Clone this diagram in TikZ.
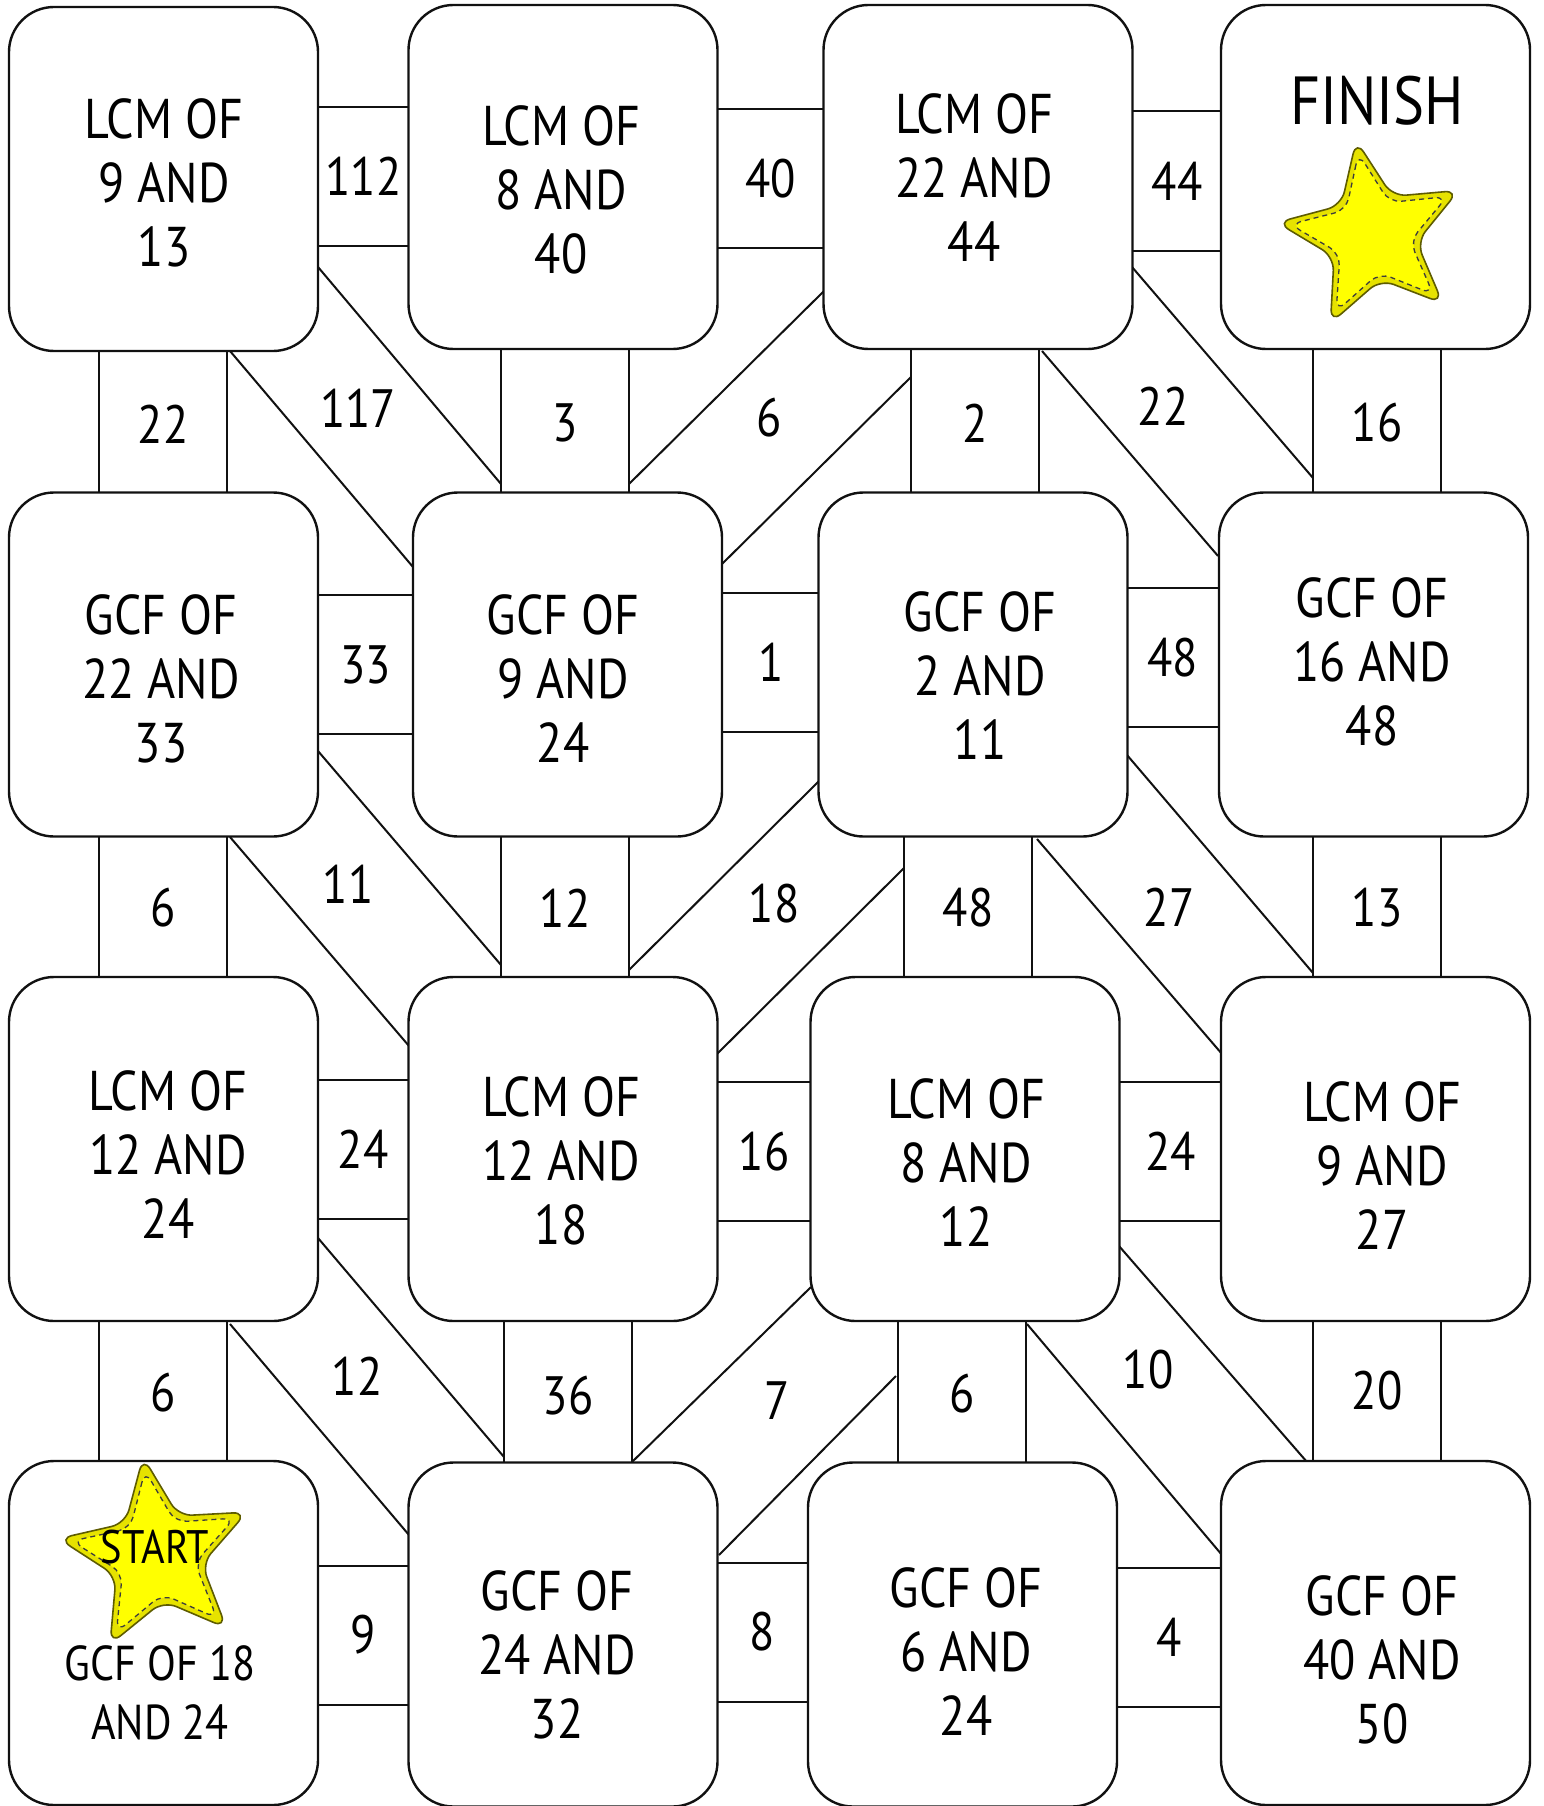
\documentclass[tikz,border=0pt]{standalone}
\usepackage{fontspec}
\setmainfont{PT Sans}[FakeStretch=0.86]
\usetikzlibrary{shapes.geometric}
\definecolor{ink}{HTML}{111111}
\definecolor{staryellow}{HTML}{FFFF00}
\definecolor{starband}{HTML}{E6E200}
\definecolor{starline}{HTML}{5E5C00}
\definecolor{stitch}{HTML}{3C3C3C}
\tikzset{
  tile/.style={draw=ink,fill=white,line width=2.4pt,rounded corners=45pt,
    minimum width=309pt,minimum height=344pt,inner sep=0pt},
  quiz/.style={align=center,font=\fontsize{56}{64}\selectfont,inner sep=0pt},
  gate/.style={draw=ink,fill=white,line width=2pt,inner sep=0pt,
    font=\fontsize{54}{60}\selectfont},
  lane/.style={draw=ink,line width=2pt},
  lanenum/.style={font=\fontsize{54}{60}\selectfont,inner sep=0pt},
  starout/.style={star,star points=5,star point ratio=2.2,minimum size=194pt,
    inner sep=0pt,rounded corners=14pt,fill=starband,draw=starline,line width=1.6pt},
  starin/.style={star,star points=5,star point ratio=2.25,minimum size=168pt,
    inner sep=0pt,rounded corners=12pt,fill=staryellow,draw=stitch,
    line width=1.3pt,dash pattern=on 5pt off 4pt}}
\begin{document}
\begin{tikzpicture}[x=1pt,y=-1pt]
\useasboundingbox (0,0) rectangle (1543,1806);
\fill[white] (0,0) rectangle (1543,1806);
% diagonal lanes
\foreach \ax/\ay/\bx/\by in {230/351/413/567, 318/267/501/484, 629/484/824/291,
  722/564/914/374, 1042/351/1218/556, 1132/267/1313/478, 230/837/409/1046,
  318/751/501/965, 629/970/819/781, 717/1054/906/866, 1037/839/1222/1054,
  1127/755/1313/973, 230/1324/409/1535, 318/1238/504/1457, 632/1462/811/1287,
  719/1555/896/1376, 1027/1324/1222/1555, 1119/1246/1307/1462}
  \draw[lane] (\ax,\ay) -- (\bx,\by);
\foreach \x/\y/\num in {358/408/117, 769/418/6, 1163/406/22, 348/884/11,
  774/904/18, 1169/907/27, 357/1376/12, 777/1401/7, 1148/1370/10}
  \node[lanenum] (lane-\num) at (\x,\y) {\num};
% gates between tiles
\foreach \n/\x/\y/\w/\h/\num in {g1a/363.5/176.5/99/139/112, g1b/770.5/178.5/115/139/40,
  g1c/1177/181/98/139/44, g2a/365.5/664.5/103/139/33, g2b/771/662/105/139/1,
  g2c/1172.5/657.5/99/139/48, g3a/363/1149/99/139/24, g3b/764/1151.5/102/139/16,
  g3c/1170.5/1151.5/111/139/24, g4a/363.5/1635/99/139/9, g4b/762.5/1632/99/139/8,
  g4c/1169.5/1637.5/113/139/4,
  v1a/163/424/128/149/22, v1b/565/423/128/151/3, v1c/975/423/128/151/2,
  v1d/1377/423/128/151/16, v2a/163/908/128/147/6, v2b/565/908/128/147/12,
  v2c/968/908/128/147/48, v2d/1377/908/128/147/13, v3a/163/1393/128/148/6,
  v3b/568/1396/128/151/36, v3c/962/1394/128/151/6, v3d/1377/1391/128/148/20}
  \node[gate,minimum width={\w pt},minimum height={\h pt}] (\n) at (\x,\y) {\num};
% question tiles
\foreach \n/\x/\y/\tx/\ty/\txt in {
  b11/163.5/179/164/183/{LCM OF\\9 AND\\13},
  b12/563/177/561/190/{LCM OF\\8 AND\\40},
  b13/978/177/974/178/{LCM OF\\22 AND\\44},
  b21/163.5/664.5/161/679/{GCF OF\\22 AND\\33},
  b22/567.5/664.5/563/679/{GCF OF\\9 AND\\24},
  b23/973/664.5/980/676/{GCF OF\\2 AND\\11},
  b24/1373.5/664.5/1372/662/{GCF OF\\16 AND\\48},
  b31/163.5/1149/168/1155/{LCM OF\\12 AND\\24},
  b32/563/1149/561/1161/{LCM OF\\12 AND\\18},
  b33/965/1149/966/1163/{LCM OF\\8 AND\\12},
  b34/1375.5/1149/1382/1166/{LCM OF\\9 AND\\27},
  b42/563/1634.5/557/1655/{GCF OF\\24 AND\\32},
  b43/962.5/1634.5/966/1652/{GCF OF\\6 AND\\24},
  b44/1375.5/1633/1382/1660/{GCF OF\\40 AND\\50}}{
  \node[tile] (\n) at (\x,\y) {};
  \node[quiz] (\n-q) at (\tx,\ty) {\txt};
}
% finish and start
\node[tile] (b14) at (1375.5,177) {};
\node[font=\fontsize{68}{70}\selectfont,inner sep=0pt] (finish) at (1377,101) {FINISH};
\node[starout,shape border rotate=10] (finish-star) at (1373,236) {};
\node[starin,shape border rotate=10] (finish-stitch) at (finish-star) {};
\node[tile] (b41) at (163.5,1633) {};
\node[starout,shape border rotate=8,minimum size=200pt] (start-star) at (157,1556) {};
\node[starin,shape border rotate=8,minimum size=173pt] (start-stitch) at (start-star) {};
\node[font=\fontsize{47}{50}\selectfont,inner sep=0pt] (start) at (155,1547) {START};
\node[quiz,font=\fontsize{49}{59}\selectfont] (b41-q) at (160,1693) {GCF OF 18\\AND 24};
\end{tikzpicture}
\end{document}
